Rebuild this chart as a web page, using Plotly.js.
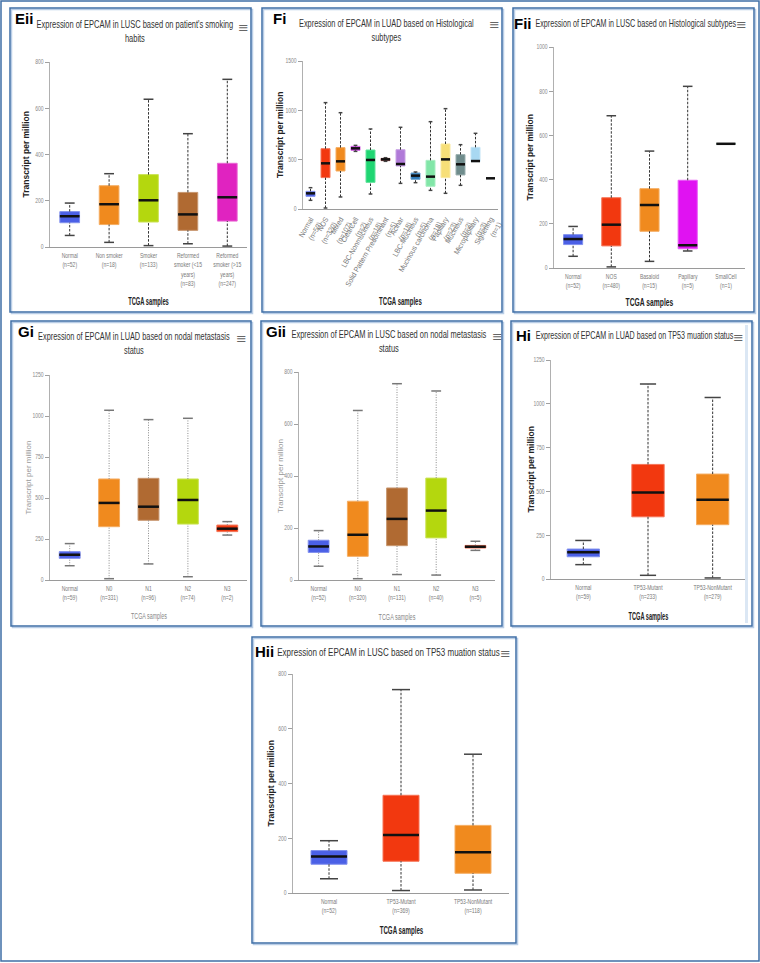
<!DOCTYPE html>
<html>
<head>
<meta charset="utf-8">
<script src="https://cdn.plot.ly/plotly-3.0.1.min.js"></script>
<style>
  html, body { margin: 0; padding: 0; background: #fff; }
  #display { width: 760px; height: 963px; }
</style>
</head>
<body>
<div id="display"></div>
<script>
// ---- data (box stats: lower whisker, q1, median, q3, upper whisker)

// Eii: LUSC, smoking habits
let eiiLabels = ['Normal<br>(n=52)', 'Non smoker<br>(n=18)', 'Smoker<br>(n=133)',
  'Reformed<br>smoker (<15<br>years)<br>(n=83)', 'Reformed<br>smoker (>15<br>years)<br>(n=247)'];
let eiiLow = [50, 20, 6, 14, 4];
let eiiQ1 = [105, 97, 108, 72, 112];
let eiiMed = [133, 185, 202, 141, 215];
let eiiQ3 = [153, 265, 313, 236, 362];
let eiiHigh = [190, 317, 639, 490, 725];
let eiiColors = ['#4b60e6', '#f08a1e', '#b4d70e', '#b06a32', '#e023c0'];

// Fi: LUAD, histological subtypes
let fiLabels = ['Normal<br>(n=59)', 'NOS<br>(n=320)', 'Mixed<br>(n=107)', 'ClearCell<br>(n=2)',
  'LBC-Nonmucinous<br>(n=18)', 'Solid Pattern Predominant<br>(n=5)', 'Acinar<br>(n=18)',
  'LBC-Mucinous<br>(n=5)', 'Mucinous carcinoma<br>(n=18)', 'Papillary<br>(n=23)',
  'Mucinous<br>(n=2)', 'Micropapillary<br>(n=3)', 'Signetring<br>(n=1)'];
let fiLow = [88, 10, 122, 584, 152, 483, 260, 267, 189, 159, 240, 480, 311];
let fiQ1 = [128, 318, 385, 595, 270, 490, 436, 301, 230, 318, 345, 480, 311];
let fiMed = [159, 463, 483, 615, 497, 503, 456, 338, 328, 503, 453, 486, 311];
let fiQ3 = [179, 611, 622, 635, 598, 513, 601, 365, 493, 659, 551, 625, 311];
let fiHigh = [216, 1078, 976, 645, 811, 520, 828, 375, 885, 1017, 652, 767, 311];
let fiColors = ['#4b60e6', '#f2380f', '#f08a1e', '#c020d8', '#1fd672', '#8b1a1a', '#b07ad8',
  '#2a78b8', '#82e6a8', '#f7df78', '#6f8c8c', '#a8d8f2', '#333333'];

// Fii: LUSC, histological subtypes
let fiiLabels = ['Normal<br>(n=52)', 'NOS<br>(n=480)', 'Basaloid<br>(n=15)', 'Papillary<br>(n=5)', 'SmallCell<br>(n=1)'];
let fiiLow = [53, 5, 30, 77, 562];
let fiiQ1 = [106, 100, 166, 87, 562];
let fiiMed = [131, 196, 285, 103, 562];
let fiiQ3 = [151, 318, 359, 397, 562];
let fiiHigh = [188, 689, 529, 822, 562];
let fiiColors = ['#4b60e6', '#f2380f', '#f08a1e', '#e012f2', '#2f8a62'];

// Gi: LUAD, nodal metastasis
let giLabels = ['Normal<br>(n=59)', 'N0<br>(n=331)', 'N1<br>(n=96)', 'N2<br>(n=74)', 'N3<br>(n=2)'];
let giLow = [87, 8, 98, 20, 274];
let giQ1 = [132, 325, 364, 341, 295];
let giMed = [154, 470, 447, 488, 313];
let giQ3 = [173, 616, 620, 616, 335];
let giHigh = [222, 1035, 978, 986, 356];
let giColors = ['#4b60e6', '#f08a1e', '#b06a32', '#b4d70e', '#f03a10'];

// Gii: LUSC, nodal metastasis
let giiLabels = ['Normal<br>(n=52)', 'N0<br>(n=320)', 'N1<br>(n=131)', 'N2<br>(n=40)', 'N3<br>(n=5)'];
let giiLow = [53, 5, 21, 19, 114];
let giiQ1 = [106, 91, 132, 162, 123];
let giiMed = [129, 174, 235, 267, 128];
let giiQ3 = [153, 303, 354, 392, 133];
let giiHigh = [190, 652, 755, 727, 149];
let giiColors = ['#4b60e6', '#f08a1e', '#b06a32', '#b4d70e', '#f03a10'];

// Hi: LUAD, TP53 mutation
let hiLabels = ['Normal<br>(n=59)', 'TP53-Mutant<br>(n=233)', 'TP53-NonMutant<br>(n=279)'];
let hiLow = [82, 21, 6];
let hiQ1 = [127, 355, 310];
let hiMed = [152, 494, 452];
let hiQ3 = [171, 654, 599];
let hiHigh = [220, 1113, 1036];
let hiColors = ['#4b60e6', '#f2380f', '#f08a1e'];

// Hii: LUSC, TP53 mutation
let hiiLabels = ['Normal<br>(n=52)', 'TP53-Mutant<br>(n=369)', 'TP53-NonMutant<br>(n=118)'];
let hiiLow = [52, 9, 11];
let hiiQ1 = [105, 116, 72];
let hiiMed = [133, 212, 149];
let hiiQ3 = [155, 357, 247];
let hiiHigh = [191, 743, 507];
let hiiColors = ['#4b60e6', '#f2380f', '#f08a1e'];

// ---- page geometry (pixels)
const W = 760, H = 963;
function fx(p){ return p / W; }
function fy(p){ return 1 - p / H; }

const sans = "'Liberation Sans', Arial, sans-serif";

let traces = [];
let squeeze = [];      // target width in px for each annotation (null = leave as is)
let layout = {
  width: W, height: H,
  margin: {l: 0, r: 0, t: 0, b: 0},
  paper_bgcolor: '#fff', plot_bgcolor: 'rgba(0,0,0,0)',
  showlegend: false, barmode: 'overlay',
  shapes: [], annotations: []
};

function lighten(hex, k){
  let r = parseInt(hex.slice(1,3),16), g = parseInt(hex.slice(3,5),16), b = parseInt(hex.slice(5,7),16);
  r = Math.round(r + (255-r)*k); g = Math.round(g + (255-g)*k); b = Math.round(b + (255-b)*k);
  return 'rgb(' + r + ',' + g + ',' + b + ')';
}

function note(a, w){ layout.annotations.push(a); squeeze.push(w); }

function addPanel(k, labels, lo, q1, md, q3, hi, colors, o){
  let xa = 'x' + (k == 1 ? '' : k), ya = 'y' + (k == 1 ? '' : k);
  let idx = labels.map((c, i) => i);
  let bw = o.bw, cw = 0.25;

  traces.push({
    type: 'bar', x: idx, base: q1, y: q3.map((v, i) => v - q1[i]), width: bw,
    marker: {color: colors, line: {color: colors.map(c => lighten(c, 0.3)), width: 1}},
    xaxis: xa, yaxis: ya, hoverinfo: 'skip'
  });
  let wx = [], wy = [];
  for (let i of idx){
    if (hi[i] > q3[i]) { wx.push(i, i, null); wy.push(q3[i], hi[i], null); }
    if (lo[i] < q1[i]) { wx.push(i, i, null); wy.push(lo[i], q1[i], null); }
  }
  traces.push({
    type: 'scatter', mode: 'lines', x: wx, y: wy, xaxis: xa, yaxis: ya, hoverinfo: 'skip',
    line: {color: o.dotted ? '#8a8a8a' : '#333', width: 1, dash: o.dotted ? '1px,1.5px' : '2.5px,1.5px'}
  });
  let cx = [], cy = [];
  for (let i of idx){
    if (hi[i] > q3[i]) { cx.push(i - cw/2, i + cw/2, null); cy.push(hi[i], hi[i], null); }
    if (lo[i] < q1[i]) { cx.push(i - cw/2, i + cw/2, null); cy.push(lo[i], lo[i], null); }
  }
  traces.push({
    type: 'scatter', mode: 'lines', x: cx, y: cy, xaxis: xa, yaxis: ya, hoverinfo: 'skip',
    line: {color: o.dotted ? '#777' : '#444', width: 1.5}
  });
  let mx = [], my = [];
  for (let i of idx){ mx.push(i - bw/2, i + bw/2, null); my.push(md[i], md[i], null); }
  traces.push({
    type: 'scatter', mode: 'lines', x: mx, y: my, xaxis: xa, yaxis: ya, hoverinfo: 'skip',
    line: {color: '#111', width: 2.5}
  });

  let p = o.plot; // [x0, x1, yTop, yBottom]
  layout['xaxis' + (k == 1 ? '' : k)] = {
    domain: [fx(p[0]), fx(p[1])], anchor: ya, range: [-0.5, labels.length - 0.5],
    tickvals: idx, ticktext: labels, tickangle: o.tickangle || 0, ticklabelstandoff: 2,
    showline: true, linecolor: '#9a9a9a', linewidth: 1, ticks: '', showgrid: false, zeroline: false,
    tickfont: {family: sans, size: o.tickangle ? 7.5 : 7, color: '#7a7a7a'}, fixedrange: true
  };
  layout['yaxis' + (k == 1 ? '' : k)] = {
    domain: [fy(p[3]), fy(p[2])], anchor: xa, range: [0, o.ymax], dtick: o.dtick,
    showline: true, linecolor: '#b0b0b0', linewidth: 1, ticks: 'outside', ticklen: 4, tickcolor: '#a0a0a0',
    showgrid: false, zeroline: false, tickfont: {family: sans, size: 7, color: '#8a8a8a'}, fixedrange: true
  };

  // frame of the panel, with a soft shade
  let b = o.box; // [x0, y0, x1, y1]
  layout.shapes.push({type: 'rect', xref: 'paper', yref: 'paper',
    x0: fx(b[0] + 1.5), x1: fx(b[2] + 1.5), y0: fy(b[3] + 1.5), y1: fy(b[1] + 1.5),
    line: {color: '#b9cde6', width: 1.5}});
  layout.shapes.push({type: 'rect', xref: 'paper', yref: 'paper',
    x0: fx(b[0]), x1: fx(b[2]), y0: fy(b[3]), y1: fy(b[1]),
    line: {color: '#3f6fa6', width: 1.5}});

  note({xref: 'paper', yref: 'paper', x: fx(o.tag[0]), y: fy(o.tag[1]), xanchor: 'left', yanchor: 'middle',
    text: '<b>' + o.tagText + '</b>', showarrow: false, font: {family: sans, size: 15, color: '#000'}}, null);
  note({xref: 'paper', yref: 'paper', x: fx(o.title[0]), y: fy(o.title[1]), xanchor: 'center', yanchor: 'middle',
    text: o.titleText, showarrow: false, font: {family: sans, size: o.tsize || 10.5, color: '#333'}}, o.title[2]);
  note({xref: 'paper', yref: 'paper', x: fx(o.menu[0]), y: fy(o.menu[1]), xanchor: 'center', yanchor: 'middle',
    text: '≡', showarrow: false, font: {family: 'DejaVu Sans', size: 13, color: '#666'}}, null);
  note({xref: 'paper', yref: 'paper', x: fx(o.ytitle), y: fy((p[2] + p[3]) / 2), xanchor: 'center', yanchor: 'middle',
    textangle: -90, text: o.light ? 'Transcript per million' : '<b>Transcript per million</b>', showarrow: false,
    font: {family: sans, size: o.light ? 8 : 8.5, color: o.light ? '#999' : '#222'}}, null);
  note({xref: 'paper', yref: 'paper', x: fx((p[0] + p[1]) / 2), y: fy(o.xtitle[0]), xanchor: 'center', yanchor: 'middle',
    text: o.light ? 'TCGA samples' : '<b>TCGA samples</b>', showarrow: false,
    font: {family: sans, size: o.light ? 9.5 : 10, color: o.light ? '#888' : '#222'}}, o.xtitle[1]);
}

addPanel(1, eiiLabels, eiiLow, eiiQ1, eiiMed, eiiQ3, eiiHigh, eiiColors, {
  bw: 0.5, ymax: 800, dtick: 200, plot: [50, 247, 62, 247], box: [10, 8, 251, 312],
  tag: [13, 19], tagText: 'Eii', title: [135, 31, 197],
  titleText: "Expression of EPCAM in LUSC based on patient's smoking<br>habits",
  menu: [243, 27], ytitle: 26, xtitle: [302, 41]});
addPanel(2, fiLabels, fiLow, fiQ1, fiMed, fiQ3, fiHigh, fiColors, {
  bw: 0.6, ymax: 1500, dtick: 500, plot: [303, 498, 61, 209], box: [262, 8, 502, 312],
  tag: [271, 19], tagText: 'Fi', title: [386, 30, 175], tickangle: -60,
  titleText: 'Expression of EPCAM in LUAD based on Histological<br>subtypes',
  menu: [494, 25], ytitle: 280, xtitle: [302, 43]});
addPanel(3, fiiLabels, fiiLow, fiiQ1, fiiMed, fiiQ3, fiiHigh, fiiColors, {
  bw: 0.5, ymax: 1000, dtick: 200, plot: [554, 745, 47, 268], box: [513, 8, 754, 312],
  tag: [512, 23], tagText: 'Fii', title: [636, 23, 201],
  titleText: 'Expression of EPCAM in LUSC based on Histological subtypes',
  menu: [741, 25], ytitle: 530, xtitle: [303, 48]});
addPanel(4, giLabels, giLow, giQ1, giMed, giQ3, giHigh, giColors, {
  bw: 0.53, ymax: 1250, dtick: 250, plot: [50, 247, 375, 580], box: [11, 321, 251, 626],
  tag: [16, 331], tagText: 'Gi', title: [134, 343, 192], light: true, dotted: true,
  titleText: 'Expression of EPCAM in LUAD based on nodal metastasis<br>status',
  menu: [241, 339], ytitle: 28, xtitle: [615, 36]});
addPanel(5, giiLabels, giiLow, giiQ1, giiMed, giiQ3, giiHigh, giiColors, {
  bw: 0.53, ymax: 800, dtick: 200, plot: [299, 495, 372, 580], box: [261, 321, 502, 626],
  tag: [264, 331], tagText: 'Gii', title: [389, 341, 195], light: true, dotted: true,
  titleText: 'Expression of EPCAM in LUSC based on nodal metastasis<br>status',
  menu: [497, 336], ytitle: 280, xtitle: [616, 37]});
addPanel(6, hiLabels, hiLow, hiQ1, hiMed, hiQ3, hiHigh, hiColors, {
  bw: 0.5, ymax: 1250, dtick: 250, plot: [551, 745, 360, 579], box: [511, 321, 752, 626],
  tag: [514, 335], tagText: 'Hi', title: [634, 335, 198],
  titleText: 'Expression of EPCAM in LUAD based on TP53 muation status',
  menu: [738, 338], ytitle: 530, xtitle: [616, 40]});
addPanel(7, hiiLabels, hiiLow, hiiQ1, hiiMed, hiiQ3, hiiHigh, hiiColors, {
  bw: 0.5, ymax: 800, dtick: 200, plot: [293, 509, 674, 893], box: [252, 637, 516, 943],
  tag: [253, 651], tagText: 'Hii', title: [388, 652, 223], tsize: 11.5,
  titleText: 'Expression of EPCAM in LUSC based on TP53 muation status',
  menu: [505, 653], ytitle: 270, xtitle: [930, 44]});

// scroll strip on the Hi panel and the outer frame of the figure
layout.shapes.push({type: 'rect', xref: 'paper', yref: 'paper', x0: fx(745), x1: fx(748), y0: fy(623), y1: fy(325),
  fillcolor: '#dbe7f4', line: {width: 0}});
layout.shapes.push({type: 'rect', xref: 'paper', yref: 'paper', x0: fx(1), x1: fx(759), y0: fy(961), y1: fy(1),
  line: {color: '#3f6fa6', width: 1.5}});

// the original uses a condensed face; squeeze the glyphs horizontally round their anchor
function narrowText(el, s){
  let bb = el.getBBox();
  if (!bb.width) return;
  let anchor = el.getAttribute('text-anchor') || 'start';
  let ax = anchor == 'end' ? bb.x + bb.width : anchor == 'middle' ? bb.x + bb.width / 2 : bb.x;
  let pre = el.getAttribute('transform') || '';
  el.setAttribute('transform', pre + ' translate(' + ax + ',0) scale(' + s + ',1) translate(' + (-ax) + ',0)');
}

Plotly.newPlot('display', traces, layout, {displayModeBar: false, staticPlot: true}).then(gd => {
  gd.querySelectorAll('g.annotation').forEach(g => {
    let w = squeeze[+g.getAttribute('data-index')];
    let t = g.querySelector('text.annotation-text');
    if (w && t) narrowText(t, w / t.getBBox().width);
  });
  for (let k = 1; k <= 7; k++){
    let id = k == 1 ? '' : k;
    gd.querySelectorAll('g.x' + id + 'tick text').forEach(t => narrowText(t, k == 2 ? 0.9 : 0.72));
    gd.querySelectorAll('g.y' + id + 'tick text').forEach(t => narrowText(t, 0.72));
  }
});
</script>
</body>
</html>
